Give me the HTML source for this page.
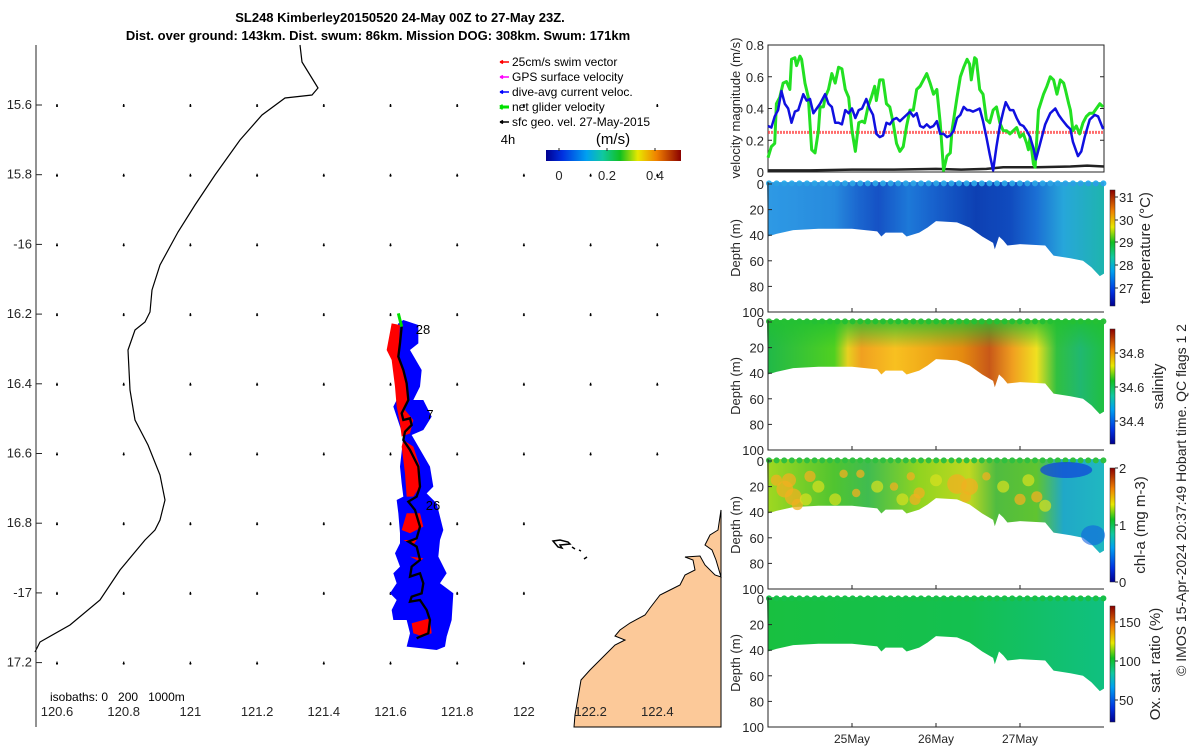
<!DOCTYPE html>
<html><head><meta charset="utf-8"><style>
html,body{margin:0;padding:0;background:#fff;width:1200px;height:750px;overflow:hidden}
svg{display:block;font-family:"Liberation Sans","DejaVu Sans",sans-serif}
</style></head><body>
<svg id="s" width="1200" height="750" viewBox="0 0 1200 750">
<defs>
<linearGradient id="jetV" x1="0" y1="1" x2="0" y2="0">
<stop offset="0" stop-color="#00008f"/><stop offset="0.12" stop-color="#0030e0"/><stop offset="0.3" stop-color="#00a0f0"/><stop offset="0.42" stop-color="#10c8a0"/><stop offset="0.55" stop-color="#10c020"/><stop offset="0.68" stop-color="#e8e800"/><stop offset="0.82" stop-color="#f08000"/><stop offset="1" stop-color="#8a0000"/></linearGradient>
<linearGradient id="jetH" x1="0" y1="0" x2="1" y2="0">
<stop offset="0" stop-color="#00008f"/><stop offset="0.12" stop-color="#0030e0"/><stop offset="0.3" stop-color="#00a0f0"/><stop offset="0.42" stop-color="#10c8a0"/><stop offset="0.55" stop-color="#10c020"/><stop offset="0.68" stop-color="#e8e800"/><stop offset="0.82" stop-color="#f08000"/><stop offset="1" stop-color="#8a0000"/></linearGradient>
<linearGradient id="gT" x1="0" y1="0" x2="1" y2="0">
<stop offset="0" stop-color="#34aaf0"/><stop offset="0.2" stop-color="#2c98e8"/><stop offset="0.27" stop-color="#1e70d8"/><stop offset="0.33" stop-color="#1858cc"/><stop offset="0.42" stop-color="#2084e2"/><stop offset="0.5" stop-color="#1a68d4"/><stop offset="0.62" stop-color="#0e44b8"/><stop offset="0.72" stop-color="#1250c4"/><stop offset="0.8" stop-color="#1e7ade"/><stop offset="0.88" stop-color="#2cb8e4"/><stop offset="1" stop-color="#22c8b2"/></linearGradient>
<linearGradient id="gS" x1="0" y1="0" x2="1" y2="0">
<stop offset="0" stop-color="#20b848"/><stop offset="0.2" stop-color="#50d020"/><stop offset="0.24" stop-color="#e8d020"/><stop offset="0.28" stop-color="#f0a020"/><stop offset="0.38" stop-color="#f8c020"/><stop offset="0.48" stop-color="#f0a818"/><stop offset="0.58" stop-color="#e48a10"/><stop offset="0.66" stop-color="#c85818"/><stop offset="0.73" stop-color="#f0a020"/><stop offset="0.8" stop-color="#f0e020"/><stop offset="0.86" stop-color="#30c040"/><stop offset="0.93" stop-color="#20b870"/><stop offset="1" stop-color="#20c040"/></linearGradient>
<linearGradient id="gSv" x1="0" y1="0" x2="0" y2="1"><stop offset="0" stop-color="#20c030" stop-opacity="0.85"/><stop offset="0.3" stop-color="#20c030" stop-opacity="0"/></linearGradient>
<linearGradient id="gC" x1="0" y1="0" x2="1" y2="0">
<stop offset="0" stop-color="#a0d820"/><stop offset="0.2" stop-color="#50c430"/><stop offset="0.3" stop-color="#40bc50"/><stop offset="0.45" stop-color="#90d420"/><stop offset="0.6" stop-color="#c0d820"/><stop offset="0.68" stop-color="#50bc40"/><stop offset="0.8" stop-color="#60c430"/><stop offset="0.88" stop-color="#20a8c8"/><stop offset="1" stop-color="#20b8c0"/></linearGradient>
<linearGradient id="gO" x1="0" y1="0" x2="1" y2="0"><stop offset="0" stop-color="#18c040"/><stop offset="0.6" stop-color="#14c050"/><stop offset="1" stop-color="#10c080"/></linearGradient>
</defs>
<g id="map"></g>
<g id="right"></g>
<text x="400" y="22" text-anchor="middle" font-size="13" font-weight="bold">SL248 Kimberley20150520 24-May 00Z to 27-May 23Z.</text>
<text x="378" y="40" text-anchor="middle" font-size="13" font-weight="bold">Dist. over ground: 143km. Dist. swum: 86km. Mission DOG: 308km. Swum: 171km</text>
<text transform="translate(1186,500) rotate(-90)" text-anchor="middle" font-size="14" fill="#262626">© IMOS 15-Apr-2024 20:37:49 Hobart time. QC flags 1  2</text>
</svg>
<script>
// ---------- data ----------
const gliderT=[0,0.04,0.08,0.10,0.14,0.18,0.22,0.26,0.28,0.32,0.34,0.38,0.40,0.44,0.48,0.52,0.56,0.60,0.62,0.66,0.68,0.72,0.76,0.80,0.84,0.88,0.92,0.96,1.00,1.04,1.08,1.12,1.15,1.19,1.23,1.27,1.29,1.33,1.37,1.41,1.45,1.49,1.53,1.57,1.61,1.65,1.69,1.73,1.77,1.81,1.85,1.89,1.93,1.97,2.01,2.05,2.09,2.13,2.17,2.19,2.25,2.29,2.33,2.37,2.40,2.42,2.46,2.48,2.52,2.56,2.60,2.64,2.68,2.72,2.76,2.80,2.84,2.88,2.92,2.96,3.00,3.04,3.08,3.10,3.12,3.16,3.18,3.22,3.28,3.32,3.36,3.40,3.44,3.48,3.52,3.54,3.58,3.60,3.63,3.67,3.71,3.75,3.79,3.83,3.87,3.91,3.95,3.99];
const gliderV=[0.09,0.16,0.18,0.43,0.47,0.56,0.57,0.52,0.71,0.72,0.67,0.73,0.71,0.56,0.47,0.14,0.12,0.26,0.41,0.41,0.47,0.52,0.62,0.56,0.66,0.65,0.52,0.47,0.26,0.13,0.31,0.32,0.31,0.41,0.47,0.54,0.45,0.58,0.58,0.43,0.41,0.31,0.18,0.13,0.16,0.29,0.39,0.39,0.52,0.54,0.58,0.62,0.56,0.49,0.52,0.31,0.01,0.10,0.12,0.26,0.47,0.60,0.66,0.71,0.68,0.58,0.72,0.71,0.52,0.49,0.33,0.31,0.39,0.41,0.31,0.26,0.26,0.24,0.26,0.28,0.22,0.24,0.18,0.14,0.22,0.05,0.03,0.39,0.49,0.54,0.60,0.58,0.49,0.58,0.56,0.52,0.43,0.39,0.26,0.29,0.24,0.31,0.35,0.37,0.37,0.40,0.43,0.41];
const currT=[0,0.04,0.08,0.12,0.16,0.20,0.24,0.28,0.32,0.36,0.42,0.46,0.50,0.54,0.58,0.62,0.68,0.72,0.76,0.80,0.84,0.88,0.92,0.96,1.00,1.04,1.08,1.12,1.17,1.21,1.25,1.29,1.33,1.37,1.41,1.45,1.49,1.53,1.57,1.61,1.65,1.69,1.73,1.77,1.81,1.85,1.89,1.93,1.97,2.01,2.05,2.09,2.13,2.17,2.21,2.25,2.29,2.33,2.37,2.40,2.44,2.48,2.52,2.56,2.60,2.64,2.68,2.72,2.76,2.80,2.83,2.88,2.92,2.96,3.00,3.04,3.08,3.12,3.16,3.19,3.24,3.30,3.36,3.42,3.46,3.50,3.56,3.60,3.63,3.69,3.73,3.77,3.83,3.89,3.93,3.99];
const currV=[0.29,0.28,0.35,0.39,0.51,0.43,0.40,0.31,0.38,0.39,0.49,0.45,0.46,0.37,0.40,0.43,0.49,0.43,0.41,0.31,0.31,0.30,0.39,0.37,0.40,0.34,0.39,0.40,0.46,0.40,0.36,0.24,0.22,0.23,0.31,0.30,0.33,0.34,0.32,0.34,0.36,0.38,0.35,0.37,0.29,0.28,0.30,0.28,0.29,0.32,0.24,0.24,0.22,0.23,0.26,0.34,0.36,0.41,0.39,0.39,0.38,0.39,0.40,0.32,0.22,0.11,0.01,0.16,0.29,0.38,0.44,0.39,0.39,0.34,0.30,0.29,0.26,0.22,0.15,0.08,0.18,0.30,0.37,0.40,0.36,0.33,0.29,0.27,0.19,0.10,0.13,0.22,0.33,0.36,0.35,0.27];
const geoT=[0,0.5,1.0,1.5,2.0,2.3,2.6,2.8,3.2,3.6,3.8,4.0];
const geoV=[0.01,0.01,0.015,0.015,0.02,0.015,0.02,0.03,0.03,0.035,0.04,0.035];
const swimV=0.25;
const bottomT=[0,0.1,0.3,0.6,1.0,1.3,1.35,1.4,1.6,1.65,1.8,1.9,2.0,2.25,2.4,2.55,2.68,2.70,2.75,2.8,2.85,3.0,3.3,3.4,3.6,3.75,3.85,3.95,4.0];
const bottomD=[41,39,36,35,35,37,41,38,38,41,38,34,29,30,34,41,46,51,41,44,48,47,48,56,58,60,65,72,70];
const dayLabels=["25May","26May","27May"];
const dayTicks=[1,2,3];
const velTicks=[0,0.2,0.4,0.6,0.8];
const velTickLabels=["0","0.2","0.4","0.6","0.8"];
const depthTicks=[0,20,40,60,80,100];
const lonTicks=[120.6,120.8,121,121.2,121.4,121.6,121.8,122,122.2,122.4];
const lonLabels=["120.6","120.8","121","121.2","121.4","121.6","121.8","122","122.2","122.4"];
const latTicks=[15.6,15.8,16,16.2,16.4,16.6,16.8,17,17.2];
const latLabels=["15.6","15.8","-16","16.2","16.4","16.6","16.8","-17","17.2"];

const NS='http://www.w3.org/2000/svg';
function mk(parent,tag,attrs){const e=document.createElementNS(NS,tag);for(const k in attrs)e.setAttribute(k,attrs[k]);parent.appendChild(e);return e;}
function txt(parent,x,y,s,anchor,size){const e=mk(parent,'text',{x:x,y:y,'text-anchor':anchor||'middle','font-size':size||13,fill:'#262626'});e.textContent=s;return e;}

// ---------- map ----------
const M=document.getElementById('map');
const lonX=v=>57+(v-120.6)/0.2*66.7;
const latY=v=>105+(v-15.6)/0.2*69.7;
const land=mk(M,'path',{d:'M574,727 L575,715 L581,680 L590,670 L605,655 L615,645 L625,640 L615,636 L620,630 L630,623 L645,615 L650,608 L660,595 L670,590 L680,585 L685,575 L695,570 L693,560 L685,557 L700,556 L705,565 L715,575 L721,577 L716,560 L712,550 L705,545 L710,535 L718,530 L721,510 L721,727 Z',fill:'#fcc999',stroke:'#000','stroke-width':1});


const isl=mk(M,'path',{d:'M553,541 L560,540 L568,542 L570,544 L560,545 L562,548 L558,547 Z M572,547 L575,549 M579,550 L581,551 M584,559 L587,557',fill:'none',stroke:'#000','stroke-width':1.5});


const coast=mk(M,'polyline',{points:'300,45 302,62 318,88 312,95 285,98 262,115 240,140 215,175 195,205 178,232 160,265 152,290 150,312 145,322 135,330 128,350 130,390 135,420 148,445 160,475 165,500 160,520 155,530 145,540 120,570 100,600 70,625 40,642 35,652',fill:'none',stroke:'#000','stroke-width':1.2});


const ax=mk(M,'path',{d:'M36,45 V727',stroke:'#262626','stroke-width':1,fill:'none'});


latTicks.forEach((v,i)=>{const y=latY(v);mk(M,'line',{x1:36,x2:42,y1:y,y2:y,stroke:'#262626'});const t=txt(M,32,y+4,latLabels[i],'end');});
lonTicks.forEach((v,i)=>{const x=lonX(v);const t=txt(M,x,716,lonLabels[i]);});
lonTicks.forEach(lo=>latTicks.forEach(la=>{const x=lonX(lo),y=latY(la);if(x>570&&y>500)return;const d=mk(M,'path',{d:`M${x},${y-1} v3 M${x-1},${y+1} h2`,stroke:'#000','stroke-width':1.3});}));
const trk=mk(M,'g',{transform:'translate(370,300) scale(0.3333)'});


mk(trk,'path',{d:'M85,70 L100,60 L145,75 L145,130 L120,150 L155,210 L150,260 L130,300 L160,300 L185,350 L160,390 L125,405 L180,500 L190,560 L170,580 L200,610 L220,690 L210,720 L205,770 L230,820 L210,850 L250,880 L245,960 L230,1010 L225,1040 L200,1050 L110,1040 L120,1000 L110,960 L70,960 L65,930 L80,900 L60,880 L80,850 L70,820 L90,800 L75,760 L90,730 L90,700 L85,640 L80,600 L100,590 L95,550 L90,500 L100,410 L70,320 L80,300 L80,200 L70,120 Z',fill:'#0000ff'});
mk(trk,'path',{d:'M65,70 L90,75 L85,170 L105,230 L115,300 L105,330 L130,360 L120,400 L95,410 L90,370 L80,320 L75,260 L65,180 L50,150 Z M100,420 L130,440 L150,500 L150,560 L130,590 L110,590 L105,520 L95,440 Z M110,640 L150,640 L160,680 L120,700 L95,690 Z M125,970 L180,955 L185,1000 L160,1010 L130,1000 Z M120,770 L160,775 L150,785 Z M100,720 L140,720 L130,735 Z',fill:'#ff0000'});
mk(trk,'polyline',{points:'95,80 90,130 85,170 100,210 110,250 115,300 95,340 100,360 120,355 125,375 105,395 100,420 120,450 145,500 150,560 140,590 115,605 135,630 150,680 140,715 115,725 140,740 150,780 125,800 120,830 150,820 160,850 155,880 125,890 120,905 150,900 170,930 180,960 175,1000 150,1010 140,1015',fill:'none',stroke:'#000','stroke-width':7});
mk(trk,'path',{d:'M85,40 L95,80',stroke:'#00e000','stroke-width':9});
[['28',423,334],['7',430,419],['26',433,510]].forEach(a=>{const t=txt(M,a[1],a[2],a[0],'middle',13);t.setAttribute('fill','#000');});
const L=mk(M,'g',{});


[['25cm/s swim vector','#ff0000'],['GPS surface velocity','#ff00ff'],['dive-avg current veloc.','#0000ff'],['net glider velocity','#00e000'],['sfc geo. vel. 27-May-2015','#000']].forEach((r,i)=>{const y=62+i*15;mk(L,'path',{d:`M500,${y} h9 M500,${y} l3,-1.5 M500,${y} l3,1.5`,stroke:r[1],'stroke-width':r[1]=='#00e000'?3:1.5});const t=txt(L,512,y+4,r[0],'start',12);t.setAttribute('fill','#000');});
txt(L,508,144,'4h','middle',13).setAttribute('fill','#000');
txt(L,613,144,'(m/s)','middle',15).setAttribute('fill','#000');
const cbm=mk(L,'rect',{x:546,y:150,width:135,height:11,fill:'url(#jetH)'});


[[559,'0'],[607,'0.2'],[655,'0.4']].forEach(a=>{mk(L,'line',{x1:a[0],x2:a[0],y1:148,y2:151,stroke:'#262626'});txt(L,a[0],180,a[1],'middle',13);});
const iso=txt(M,50,701,'isobaths: 0   200   1000m','start',12);
iso.setAttribute('fill','#000');iso.style.whiteSpace='pre';



// ---------- right panels ----------
const R=document.getElementById('right');
const X0=768,X1=1104;
const tx=t=>X0+t/4*(X1-X0);
const vy=v=>172-v/0.8*127;
const vp=mk(R,'g',{});


mk(vp,'rect',{x:X0,y:45,width:X1-X0,height:127,fill:'none',stroke:'#262626'});
velTicks.forEach((v,i)=>{const y=vy(v);mk(vp,'line',{x1:X0,x2:X0+4,y1:y,y2:y,stroke:'#262626'});mk(vp,'line',{x1:X1-4,x2:X1,y1:y,y2:y,stroke:'#262626'});txt(vp,X0-4,y+5,velTickLabels[i],'end',13);});
const vl=txt(vp,0,0,'velocity magnitude (m/s)','middle',13);vl.setAttribute('transform','translate(740,108) rotate(-90)');
const sw=mk(vp,'line',{x1:X0,x2:X1,y1:vy(swimV),y2:vy(swimV),stroke:'#ff3030','stroke-width':3,'stroke-dasharray':'2,1',opacity:0.7});


function line(ts,vs,col,w,name){const p=mk(vp,'polyline',{points:ts.map((t,i)=>tx(t)+','+vy(vs[i])).join(' '),fill:'none',stroke:col,'stroke-width':w,'stroke-linejoin':'round'});}
line(geoT,geoV,'#222',2.5,'sfc-geo-velocity-line');
line(gliderT,gliderV,'#22e022',3,'net-glider-velocity-line');
line(currT,currV,'#1010e0',2.5,'dive-avg-current-line');

const panels=[
 {top:184,fill:'url(#gT)',name:'temperature-panel',cb:[190,306],ticks:[[197,'31'],[220,'30'],[242,'29'],[265,'28'],[288,'27']],label:'temperature (°C)',lx:1150},
 {top:322,fill:'url(#gS)',name:'salinity-panel',cb:[329,444],ticks:[[353,'34.8'],[387,'34.6'],[421,'34.4']],label:'salinity',lx:1163},
 {top:461,fill:'url(#gC)',name:'chl-panel',cb:[468,582],ticks:[[468,'2'],[525,'1'],[582,'0']],label:'chl-a (mg m-3)',lx:1145},
 {top:599,fill:'url(#gO)',name:'oxygen-panel',cb:[606,722],ticks:[[622,'150'],[661,'100'],[700,'50']],label:'Ox. sat. ratio (%)',lx:1160}
];
panels.forEach((P,pi)=>{
 const g=mk(R,'g',{});
 
 
 const dy=d=>P.top+d/100*128;
 const pts=[tx(0)-1+','+dy(-1.5)].concat(bottomT.map((t,i)=>tx(t)+','+dy(bottomD[i]))).concat([tx(4)+','+dy(-1.5)]);
 mk(g,'polygon',{points:pts.join(' '),fill:P.fill});
 for(let x=X0+1;x<X1;x+=7.6)mk(g,'circle',{cx:x,cy:dy(-0.5),r:3,fill:pi==0?'#30b0ee':(pi==3?'#18c048':'#30c040')});
 if(pi==0){mk(g,'polygon',{points:pts.join(' '),fill:'#082a98',opacity:0.12});}
 if(pi==1){mk(g,'polygon',{points:pts.join(' '),fill:'url(#gSv)'});}
 if(pi==2){
  [[0.1,15,4],[0.2,22,6],[0.3,28,6],[0.25,15,5],[0.35,34,4],[0.5,12,4],[0.9,10,3],[1.05,25,3],[1.5,20,3],[1.7,12,3],[1.75,30,4],[2.25,18,7],[2.4,20,6],[2.35,28,4],[2.6,12,3],[3.0,30,4],[3.2,28,4],[1.1,10,3],[1.8,25,4]].forEach(b=>mk(g,'circle',{cx:tx(b[0]),cy:dy(b[1]),r:b[2]*1.4,fill:'#f0b020',opacity:0.75}));
  [[0.6,20],[0.8,30],[1.3,20],[1.6,30],[2.0,15],[2.8,20],[3.1,15],[3.3,35],[0.45,30]].forEach(b=>mk(g,'circle',{cx:tx(b[0]),cy:dy(b[1]),r:6,fill:'#d8e020',opacity:0.7}));
  mk(g,'ellipse',{cx:tx(3.55),cy:dy(7),rx:26,ry:8,fill:'#1048d8',opacity:0.75});
  mk(g,'ellipse',{cx:tx(3.87),cy:dy(58),rx:12,ry:10,fill:'#1060e0',opacity:0.6});
 }
 mk(g,'path',{d:`M${X0},${P.top-2} V${dy(100)} H${X1}`,fill:'none',stroke:'#262626'});
 depthTicks.forEach(d=>{mk(g,'line',{x1:X0,x2:X0+4,y1:dy(d),y2:dy(d),stroke:'#262626'});txt(g,X0-4,dy(d)+5,String(d),'end',13);});
 const yl=txt(g,0,0,'Depth (m)','middle',13);yl.setAttribute('transform',`translate(740,${P.top+64}) rotate(-90)`);
 dayTicks.forEach(t=>mk(g,'line',{x1:tx(t),x2:tx(t),y1:dy(100),y2:dy(100)-4,stroke:'#262626'}));
 const cb=mk(g,'rect',{x:1110,y:P.cb[0],width:5,height:P.cb[1]-P.cb[0],fill:'url(#jetV)',stroke:'#262626','stroke-width':0.5});
 
 
 P.ticks.forEach(k=>{mk(g,'line',{x1:1115,x2:1118,y1:k[0],y2:k[0],stroke:'#262626'});txt(g,1119,k[0]+5,k[1],'start',13);});
 const cl=txt(g,0,0,P.label,'middle',15);cl.setAttribute('transform',`translate(${P.lx},${(P.cb[0]+P.cb[1])/2}) rotate(-90)`);
});
dayTicks.forEach((t,i)=>{const e=txt(R,tx(t),743,dayLabels[i],'middle',12);});
</script>
</body></html>
